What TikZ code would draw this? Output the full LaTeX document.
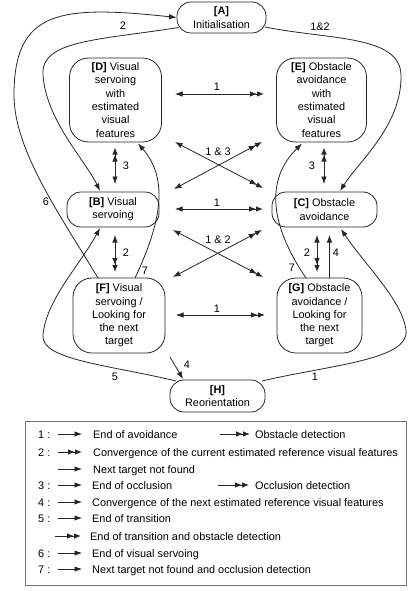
\documentclass[tikz,border=0pt]{standalone}
\usepackage{fontspec}
\setmainfont{Liberation Sans}
\usetikzlibrary{arrows.meta,calc}
\newcommand{\nfont}{\fontsize{10.9}{13.3}\selectfont}
\begin{document}
\begin{tikzpicture}[x=1pt,y=-1pt,
  Sg/.tip={Latex[length=7.5pt,width=5.5pt]},
  Db/.tip={Latex[length=7pt,width=5.5pt]Latex[length=7pt,width=5.5pt]},
  st/.style={draw=black!85, line width=0.8pt, rounded corners=14pt, inner sep=0pt, align=center, font=\nfont},
  tall/.style={st, rounded corners=19pt},
  con/.style={draw=black!85, line width=0.8pt},
  lbl/.style={font=\nfont, inner sep=0pt},
  legtxt/.style={font=\nfont, inner sep=0pt, anchor=base west}]
\useasboundingbox (0,0) rectangle (409,591);

% states
\node[st, minimum width=89pt, minimum height=31pt] (A) at (221.5,17.5) {\textbf{[A]}\\Initialisation};
\node[tall, minimum width=92pt, minimum height=84pt] (D) at (115.5,100) {\textbf{[D]} Visual\\servoing\\with\\estimated\\visual\\features};
\node[tall, minimum width=90pt, minimum height=84pt] (E) at (321.5,100) {\textbf{[E]} Obstacle\\avoidance\\with\\estimated\\visual\\features};
\node[st, minimum width=92pt, minimum height=35pt] (B) at (113,209.5) {\textbf{[B]} Visual\\servoing};
\node[st, minimum width=105pt, minimum height=35pt] (C) at (324.5,209.5) {\textbf{[C]} Obstacle\\avoidance};
\node[tall, minimum width=92pt, minimum height=75pt] (F) at (119,315.5) {\textbf{[F]} Visual\\servoing /\\Looking for\\the next\\target};
\node[tall, minimum width=85pt, minimum height=75pt] (G) at (319.5,315.5) {\textbf{[G]} Obstacle\\avoidance /\\Looking for\\the next\\target};
\node[st, minimum width=95pt, minimum height=32pt] (H) at (217.5,396) {\textbf{[H]}\\Reorientation};

% horizontal arrows
\draw[con,Sg-Db] ($(D)+(59.5,-6)$) -- ($(E)+(-57.5,-6)$);
\draw[con,Sg-Db] ($(B)+(62,-0.5)$) -- ($(C)+(-61.5,-0.5)$);
\draw[con,Sg-Db] ($(F)+(57,-0.5)$) -- ($(G)+(-54.5,-0.5)$);
% crossing arrows
\draw[con,Sg-Db] ($(D)+(59.5,42)$) -- ($(C)+(-61.5,-21.5)$);
\draw[con,Sg-Db] ($(B)+(61,-20.5)$) -- ($(E)+(-59.5,42)$);
\draw[con,Sg-Db] ($(B)+(60,20.5)$) -- ($(G)+(-56.5,-38.5)$);
\draw[con,Sg-Db] ($(F)+(54,-38.5)$) -- ($(C)+(-62.5,20.5)$);
% vertical arrows
\draw[con,Db-Sg] ($(D)+(-0.5,47.5)$) -- ($(B)+(2,-25.5)$);
\draw[con,Db-Sg] ($(E)+(2.5,47.5)$) -- ($(C)+(-0.5,-25.5)$);
\draw[con,Sg-Db] ($(B)+(2,25.5)$) -- ($(F)+(-4,-43.5)$);
\draw[con,Sg-Db] ($(C)+(-7.5,25.5)$) -- ($(G)+(-2.5,-43.5)$);
\draw[con,-Sg] ($(G)+(10,-37.5)$) -- ($(C)+(5,25.5)$);

% curved transitions
\draw[con,-Sg] ($(F)+(-21,-37.5)$) .. controls (60,215) and (14,150) .. (14,95)
   .. controls (14,10) and (60,5) .. (A.west);
\draw[con,-Sg] ($(A)+(-43,10)$) .. controls (100,40) and (40,40) .. (43,75)
   .. controls (46,120) and (85,160) .. ($(B)+(-13,-18.5)$);
\draw[con,-Sg] ($(A)+(43.5,9.5)$) .. controls (330,40) and (400,35) .. (401,75)
   .. controls (402,125) and (360,160) .. ($(C)+(15.5,-18.5)$);
\draw[con,-Sg] ($(F)+(16,-37.5)$) .. controls (160,225) and (170,180) .. ($(D)+(22.5,43.5)$);
\draw[con,-Sg] ($(G)+(-13.5,-37.5)$) .. controls (270,225) and (265,180) .. ($(E)+(-19.5,43.5)$);
\draw[con,-Sg] ($(H)+(-41.5,-15)$) .. controls (110,365) and (40,360) .. (43,335)
   .. controls (46,300) and (80,265) .. ($(B)+(-13,18.5)$);
\draw[con,-Sg] ($(H)+(44.5,-15)$) .. controls (330,365) and (410,360) .. (406,330)
   .. controls (402,300) and (365,265) .. ($(C)+(16.5,19.5)$);
\coordinate (h4) at (170,357);
\draw[con,-Sg] (h4) -- ($(H)+(-34.5,-17)$);

% connector labels
\node[lbl] (l1) at (123,26) {2};
\node[lbl] (l2) at (320,27) {1\&2};
\node[lbl] (l3) at (46,202) {6};
\node[lbl] (l4) at (145,271) {7};
\node[lbl] (l5) at (292,268) {7};
\node[lbl] (l6) at (115,377) {5};
\node[lbl] (l7) at (315,377) {1};
\node[lbl] (l8) at (187,365) {4};
\node[lbl] (l9) at (126,166) {3};
\node[lbl] (l10) at (312,166) {3};
\node[lbl] (l11) at (126,253) {2};
\node[lbl] (l12) at (307,253) {2};
\node[lbl] (l13) at (336,253) {4};
\node[lbl] (l14) at (217,87) {1};
\node[lbl] (l15) at (217,203) {1};
\node[lbl] (l16) at (217,309) {1};
\node[lbl] (l17) at (218,152) {1 \& 3};
\node[lbl] (l18) at (218,240) {1 \& 2};

% legend
\node[draw=black!55, line width=1pt, minimum width=381pt, minimum height=164pt, inner sep=0pt] (leg) at (215.5,503) {};
\node[legtxt] (n1) at (38,438) {1 :};
\draw[con,-Sg] (58,434) -- (82,434);
\node[legtxt] (t1) at (93,438) {End of avoidance};
\draw[con,-Db] (220,434) -- (250,434);
\node[legtxt] (t1b) at (255,438) {Obstacle detection};

\node[legtxt] (n2) at (38,456) {2 :};
\draw[con,-Db] (58,452) -- (82,452);
\node[legtxt] (t2) at (93,456) {Convergence of the current estimated reference visual features};

\draw[con,-Sg] (58,469) -- (82,469);
\node[legtxt] (t2b) at (93,473) {Next target not found};

\node[legtxt] (n3) at (38,489) {3 :};
\draw[con,-Sg] (58,485) -- (82,485);
\node[legtxt] (t3) at (92,489) {End of occlusion};
\draw[con,-Db] (218,485) -- (249,485);
\node[legtxt] (t3b) at (255,489) {Occlusion detection};

\node[legtxt] (n4) at (38,506) {4 :};
\draw[con,-Sg] (58,502) -- (82,502);
\node[legtxt] (t4) at (92,506) {Convergence of the next estimated reference visual features};

\node[legtxt] (n5) at (38,522) {5 :};
\draw[con,-Sg] (58,518) -- (82,518);
\node[legtxt] (t5) at (92,522) {End of transition};

\draw[con,-Db] (55,536) -- (81,536);
\node[legtxt] (t5b) at (90,540) {End of transition and obstacle detection};

\node[legtxt] (n6) at (38,557) {6 :};
\draw[con,-Sg] (58,553) -- (82,553);
\node[legtxt] (t6) at (92,557) {End of visual servoing};

\node[legtxt] (n7) at (38,573) {7 :};
\draw[con,-Sg] (58,569) -- (82,569);
\node[legtxt] (t7) at (92,573) {Next target not found and occlusion detection};
\end{tikzpicture}
\end{document}
